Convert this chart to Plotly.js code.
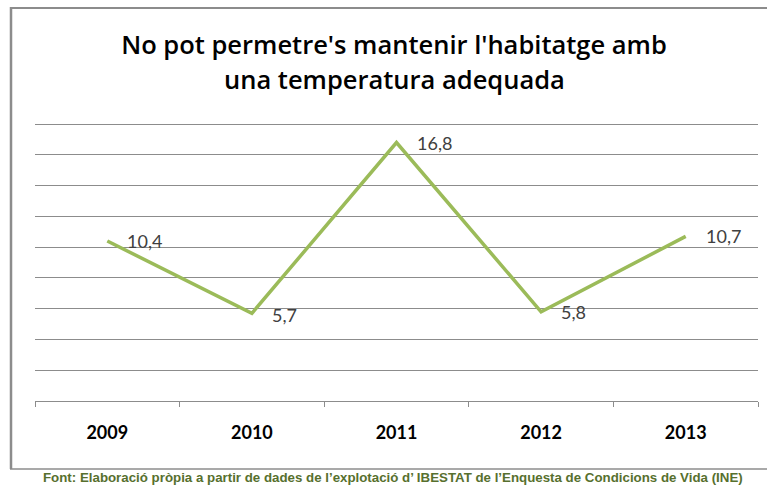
<!DOCTYPE html>
<html>
<head>
<meta charset="utf-8">
<script src="https://cdn.plot.ly/plotly-3.0.1.min.js"></script>
<style>html,body{margin:0;padding:0;background:#fff;}#chart{width:767px;height:486px;}</style>
</head>
<body>
<div id="chart"></div>
<script>
var years = ['2009', '2010', '2011', '2012', '2013'];
var values = [10.4, 5.7, 16.8, 5.8, 10.7];
var valueLabels = ['10,4', '5,7', '16,8', '5,8', '10,7'];
var titleLine1 = "No pot permetre's mantenir l'habitatge amb";
var titleLine2 = "una temperatura adequada";
var sourceText = "Font: Elaboració pròpia a partir de dades de l’explotació d’ IBESTAT de l’Enquesta de Condicions de Vida (INE)";

var W = 767, H = 486;
var mL = 35, mR = 9, mT = 121, mB = 85;
var pw = W - mL - mR, ph = H - mT - mB;
function px(x) { return (x - mL) / pw; }
function py(y) { return (H - mB - y) / ph; }

var trace = {
  x: years,
  y: values,
  type: 'scatter',
  mode: 'lines',
  line: {color: '#9BBB59', width: 3.5},
  hoverinfo: 'x+y'
};

var titleFont = {family: 'Open Sans, sans-serif', size: 25.5, color: '#000', weight: 600};

var annotations = years.map(function (yr, i) {
  return {
    x: i, y: values[i], xref: 'x', yref: 'y',
    text: valueLabels[i], showarrow: false,
    xanchor: 'left', yanchor: 'middle', xshift: 18, yshift: (i === 1 ? -2 : 0),
    font: {family: 'Lato, sans-serif', size: 18, color: '#404040'}
  };
});
annotations.push({
  xref: 'paper', yref: 'paper', x: px(394), y: py(79), xanchor: 'center', yanchor: 'middle',
  text: titleLine2, showarrow: false,
  font: titleFont
});
annotations.push({
  xref: 'paper', yref: 'paper', x: px(393), y: py(477), xanchor: 'center', yanchor: 'middle',
  text: '<b>' + sourceText + '</b>', showarrow: false,
  font: {family: 'Liberation Sans, Arial, sans-serif', size: 13.3, color: '#57702e'}
});

var borderColor = '#8c8c8c';
var shapes = [
  {type: 'line', xref: 'paper', yref: 'paper', x0: px(11), x1: px(11), y0: py(7), y1: py(469), line: {color: borderColor, width: 2.5}},
  {type: 'line', xref: 'paper', yref: 'paper', x0: px(10), x1: px(767), y0: py(8), y1: py(8), line: {color: borderColor, width: 2}},
  {type: 'line', xref: 'paper', yref: 'paper', x0: px(10), x1: px(767), y0: py(469), y1: py(469), line: {color: borderColor, width: 1.5}}
];

var layout = {
  width: W, height: H,
  margin: {l: mL, r: mR, t: mT, b: mB, pad: 0},
  paper_bgcolor: '#fff', plot_bgcolor: '#fff',
  showlegend: false,
  title: {
    text: titleLine1,
    x: px(394), xref: 'paper', xanchor: 'center',
    y: 1 - 45 / H, yref: 'container', yanchor: 'middle',
    font: titleFont
  },
  xaxis: {
    type: 'category', range: [-0.5, 4.5],
    tickson: 'boundaries', ticks: 'outside', ticklen: 5, tickcolor: borderColor, tickwidth: 1,
    showline: true, linecolor: borderColor, linewidth: 1,
    showgrid: false, zeroline: false,
    ticklabelstandoff: 15,
    tickfont: {family: 'Lato, sans-serif', size: 18, color: '#000', weight: 'bold'},
    fixedrange: true
  },
  yaxis: {
    range: [0, 18.2], dtick: 2, tick0: 0,
    showgrid: true, gridcolor: borderColor, gridwidth: 1,
    showticklabels: false, ticks: '', showline: false, zeroline: false,
    fixedrange: true
  },
  annotations: annotations,
  shapes: shapes
};

Plotly.newPlot('chart', [trace], layout, {displayModeBar: false, staticPlot: true});
</script>
</body>
</html>
